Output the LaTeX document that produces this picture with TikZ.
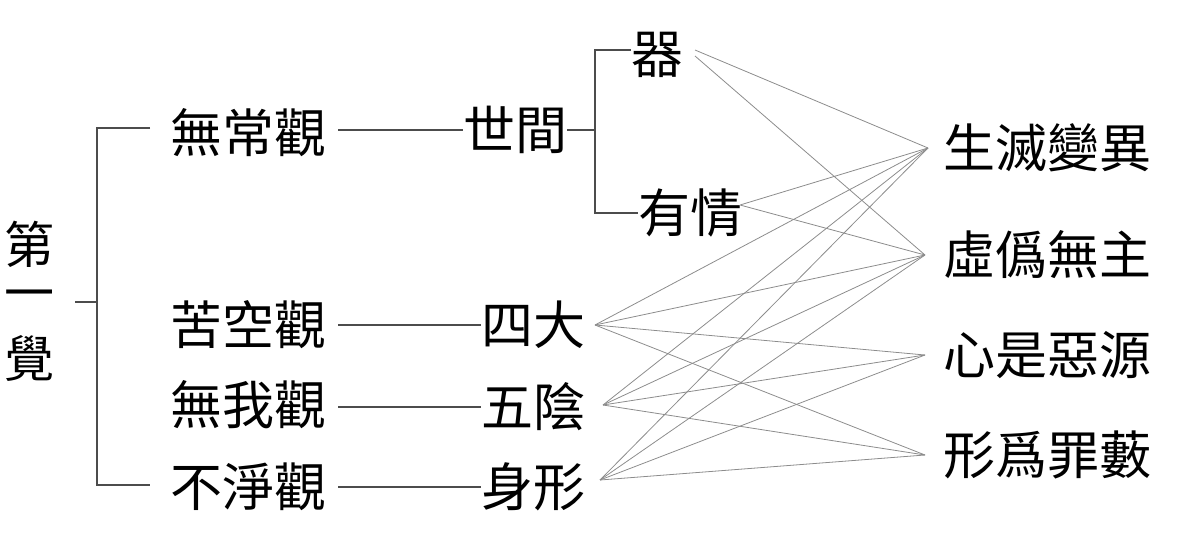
\documentclass[tikz,border=0pt]{standalone}
\usepackage{fontspec}
\newfontfamily\cjk{Noto Sans CJK TC}
\begin{document}
\begin{tikzpicture}[x=1pt,y=-1pt,
  lbl/.style={font=\cjk\fontsize{52}{56}\selectfont, inner sep=0pt},
  vl/.style={font=\cjk\fontsize{50}{54}\selectfont, inner sep=0pt},
  br/.style={draw=black!70, line width=2pt},
  ln/.style={draw=black!45, line width=0.8pt}]
\useasboundingbox (0,0) rectangle (1200,551);
\node[vl] (d1) at (30,244) {第};
\node[vl] (d2) at (30,301) {一};
\node[vl] (d3) at (30,358) {覺};
\node[lbl] (a1) at (248,133) {無常觀};
\node[lbl] (a2) at (248,325) {苦空觀};
\node[lbl] (a3) at (248,405) {無我觀};
\node[lbl] (a4) at (248,487) {不淨觀};
\node[lbl] (b1) at (515,130) {世間};
\node[lbl] (b2) at (533,325) {四大};
\node[lbl] (b3) at (533,407) {五陰};
\node[lbl] (b4) at (533,487) {身形};
\node[lbl] (c1) at (657,55) {器};
\node[lbl] (c2) at (690,213) {有情};
\node[lbl] (r1) at (1047,148) {生滅變異};
\node[lbl] (r2) at (1047,255) {虛僞無主};
\node[lbl] (r3) at (1047,355) {心是惡源};
\node[lbl] (r4) at (1047,455) {形爲罪藪};
% left bracket
\draw[br] (75,302) -- (97,302);
\draw[br] (150,128) -- (97,128) -- (97,485) -- (150,485);
\draw[br] (a1.east |- 0,130) ++(12,0) -- (b1.west |- 0,130) -- ++(-10,0);
\draw[br] (a2.east |- 0,325) ++(12,0) -- (b2.west |- 0,325);
\draw[br] (a3.east |- 0,407) ++(12,0) -- (b3.west |- 0,407);
\draw[br] (a4.east |- 0,487) ++(12,0) -- (b4.west |- 0,487);
% second bracket
\draw[br] (b1.east |- 0,130) -- (595,130);
\draw[br] (c1.west |- 0,50) -- (595,50) -- (595,213) -- (c2.west |- 0,213);
% cross lines
\coordinate (p1) at (695,50);
\coordinate (p1b) at (695,56);
\coordinate (p2) at (740,205);
\coordinate (p3) at (595,325);
\coordinate (p4) at (603,405);
\coordinate (p5) at (600,480);
\coordinate (q1) at (928,148);
\coordinate (q2) at (925,255);
\coordinate (q3) at (925,355);
\coordinate (q4) at (925,455);
\draw[ln] (p1)--(q1) (p1b)--(q2) (p2)--(q1) (p2)--(q2);
\foreach \p in {p3,p4,p5}{\foreach \q in {q1,q2,q3,q4}{\draw[ln] (\p)--(\q);}}
\end{tikzpicture}
\end{document}
